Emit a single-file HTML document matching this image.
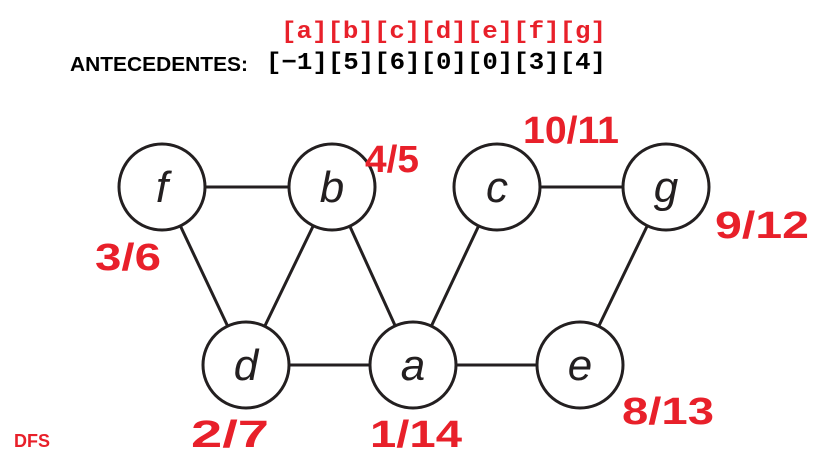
<!DOCTYPE html>
<html><head><meta charset="utf-8"><style>
html,body{margin:0;padding:0;background:#fff;width:819px;height:460px;overflow:hidden}
svg{display:block}
.mono{font-family:"Liberation Mono","DejaVu Sans Mono",monospace;font-weight:bold}
.hand{font-family:"Liberation Sans",sans-serif;font-weight:bold;fill:#e8202a}
</style></head><body>
<svg id="g" width="819" height="460" viewBox="0 0 819 460">
<text class="mono" x="606" y="38" text-anchor="end" font-size="24" fill="#e8202a" textLength="325" lengthAdjust="spacingAndGlyphs">[a][b][c][d][e][f][g]</text>
<text x="70" y="71" font-family="Liberation Sans,sans-serif" font-weight="bold" font-size="20" fill="#000" textLength="178" lengthAdjust="spacingAndGlyphs">ANTECEDENTES:</text>
<text class="mono" x="606" y="69" text-anchor="end" font-size="24" fill="#000" textLength="340" lengthAdjust="spacingAndGlyphs">[−1][5][6][0][0][3][4]</text>
<text x="14" y="447" font-family="Liberation Sans,sans-serif" font-weight="bold" font-size="18" fill="#e8202a">DFS</text>
</svg>
<script>
const nodeNames=['f','b','c','g','d','a','e'];
const nodeX=[162,332,497,666,246,413,580];
const nodeY=[187,187,187,187,365,365,365];
const edges=[['f','b'],['c','g'],['f','d'],['b','d'],['b','a'],['c','a'],['g','e'],['d','a'],['a','e']];
const times=['3/6','4/5','10/11','9/12','2/7','1/14','8/13'];
const timeX=[128,392,571,762,230,416,668];
const timeY=[270,172,143,238,447,447,424];
const timeW=[66,54,96,94,78,92,92];
const R=43;
const svg=document.getElementById('g');
const NS='http://www.w3.org/2000/svg';
function idx(n){return nodeNames.indexOf(n);}
edges.forEach(([p,q])=>{
  const i=idx(p),j=idx(q);
  const l=document.createElementNS(NS,'line');
  l.setAttribute('x1',nodeX[i]);l.setAttribute('y1',nodeY[i]);
  l.setAttribute('x2',nodeX[j]);l.setAttribute('y2',nodeY[j]);
  l.setAttribute('stroke','#231f20');l.setAttribute('stroke-width','3');
  
  
  svg.appendChild(l);
});
nodeNames.forEach((n,i)=>{
  const c=document.createElementNS(NS,'circle');
  c.setAttribute('cx',nodeX[i]);c.setAttribute('cy',nodeY[i]);c.setAttribute('r',R);
  c.setAttribute('fill','#fff');c.setAttribute('stroke','#231f20');c.setAttribute('stroke-width','3');
  
  
  svg.appendChild(c);
  const t=document.createElementNS(NS,'text');
  t.setAttribute('x',nodeX[i]);t.setAttribute('y',nodeY[i]+15);
  t.setAttribute('text-anchor','middle');t.setAttribute('font-size','44');
  t.setAttribute('font-style','italic');t.setAttribute('fill','#231f20');
  t.setAttribute('font-family','Liberation Sans,sans-serif');
  t.textContent=n;
  
  
  svg.appendChild(t);
  const h=document.createElementNS(NS,'text');
  h.setAttribute('class','hand');
  h.setAttribute('x',timeX[i]);h.setAttribute('y',timeY[i]);
  h.setAttribute('text-anchor','middle');h.setAttribute('font-size','38');
  h.setAttribute('textLength',timeW[i]);h.setAttribute('lengthAdjust','spacingAndGlyphs');
  h.textContent=times[i];
  
  
  svg.appendChild(h);
});
</script>
</body></html>
